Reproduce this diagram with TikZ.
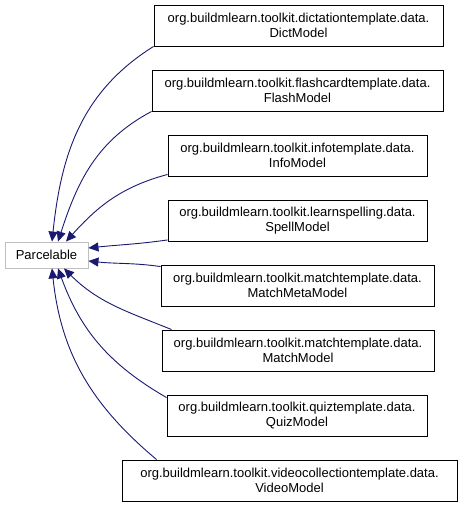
\documentclass[tikz,border=0pt]{standalone}
\usepackage{fontspec}
\setmainfont{Liberation Sans}
\usetikzlibrary{arrows.meta}
\definecolor{cedge}{HTML}{191970}
\definecolor{cgrey}{HTML}{BFBFBF}
\tikzset{
  every picture/.style={font=\fontsize{13}{15}\selectfont, x=1pt, y=1pt},
  cls/.style={draw=black, line width=0.9pt, fill=white, align=center, inner sep=2pt, minimum height=41pt},
  base/.style={draw=cgrey, line width=0.9pt, fill=white, inner sep=2pt, minimum width=83pt, minimum height=26pt},
  inherit/.style={-{Triangle[length=10pt, width=9pt]}, draw=cedge, line width=0.9pt},
}

\begin{document}
\begin{tikzpicture}
  \useasboundingbox (0,0) rectangle (464,-509);
  % base class
  \node[base] (parcel) at (46.5,-255) {Parcelable};
  % derived classes, top to bottom
  \foreach \n/\x/\y/\w/\pkg/\c in {
      dict/298.5/25.5/289/dictationtemplate/DictModel,
      flash/297.5/90.5/291/flashcardtemplate/FlashModel,
      info/297.5/155.5/259/infotemplate/InfoModel,
      spell/297.5/220.5/259/learnspelling/SpellModel,
      mmeta/297.5/285.5/273/matchtemplate/MatchMetaModel,
      match/298/350.5/272/matchtemplate/MatchModel,
      quiz/297/415.5/260/quiztemplate/QuizModel,
      video/289.5/480.5/335/videocollectiontemplate/VideoModel}
    { \node[cls, minimum width=\w pt] (\n) at (\x,-\y) {org.buildmlearn.toolkit.\pkg.data.\\\c}; }
  % inheritance edges: start anchor + shift, tip anchor + shift, angles
  \foreach \a/\ax/\ay/\b/\bx/\by/\o/\i in {
      dict.south west/0/0/parcel.north/5.5/0/212/84,
      flash.south west/0/0/parcel.north/11.5/0/208/72,
      info.south west/0/2/parcel.north/19.5/0/195/48,
      spell.south west/0/1.5/parcel.east/0/7/188/6,
      mmeta.north west/0/-2/parcel.east/0/-6/172/-6,
      match.north west/10/0/parcel.south/17.5/0/158/-45,
      quiz.north west/0/-3/parcel.south/11.5/0/150/-70,
      video.north west/35/0/parcel.south/5.5/0/140/-84}
    { \draw[inherit] ([shift={(\ax,\ay)}]\a) to[out=\o, in=\i] ([shift={(\bx,\by)}]\b); }
\end{tikzpicture}
\end{document}
